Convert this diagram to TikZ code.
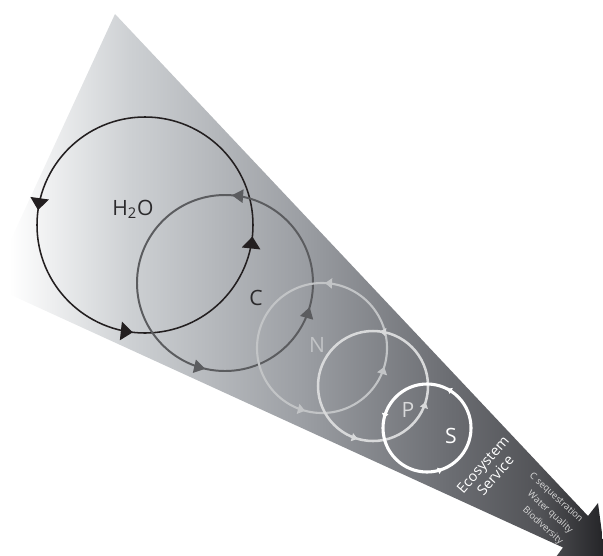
\documentclass[tikz,border=0pt]{standalone}
\usepackage{fontspec}
\setmainfont{Open Sans}
\usetikzlibrary{arrows.meta,decorations.markings}
\definecolor{wedgeB}{RGB}{205,208,211}
\definecolor{wedgeC}{RGB}{156,159,164}
\definecolor{wedgeD}{RGB}{107,109,114}
\definecolor{wedgeE}{RGB}{82,83,87}
\definecolor{wedgeF}{RGB}{36,36,39}
\definecolor{h2oline}{HTML}{231F20}
\definecolor{cline}{HTML}{5B5C5F}
\definecolor{nline}{HTML}{C2C4C6}
\definecolor{pline}{HTML}{D8D9DA}
\definecolor{labdark}{HTML}{2B2A2C}
\definecolor{smalltxt}{HTML}{DADADA}
\pgfdeclarehorizontalshading{wedgeshade}{100bp}{color(0bp)=(white); color(26.6bp)=(white); color(36.4bp)=(wedgeB); color(50.2bp)=(wedgeC); color(62.4bp)=(wedgeD); color(69.7bp)=(wedgeE); color(75bp)=(wedgeF); color(100bp)=(wedgeF)}

\begin{document}
\begin{tikzpicture}[x=0.25mm,y=-0.25mm,
  wedge/.style={shading=wedgeshade},
  marks/.style={postaction={decorate,decoration={markings,#1}}},
  lbl/.style={font=\fontsize{15}{18}\selectfont,inner sep=0pt,anchor=base},
  es/.style={font=\fontsize{10.2}{11.8}\selectfont,text=white,align=center,rotate=49,inner sep=0pt},
  svc/.style={font=\fontsize{6.6}{10.6}\selectfont,text=smalltxt,align=right,rotate=-42,inner sep=0pt}]
  \useasboundingbox (0,0) rectangle (603,555);
  \clip (0,0) rectangle (603,555);
  % the cone, ending in an arrow head
  \shade[wedge] (115,14) -- (588,516) -- (598,503) -- (605,556) -- (553,561) -- (563,547.5) -- (-10.2,285.3) -- cycle;
  % cycles, from big to small
  \foreach \cx/\cy/\r/\col/\lw/\tw/\tl/\pa/\pb/\pc in {
    145/225/108/h2oline/1.1pt/4.6mm/3mm/0.478/0.732/0.983,
    225/283/88/cline/1.4pt/3.3mm/2.8mm/0.2375/0.714/0.956,
    322/348/65/nline/1.5pt/2.5mm/1.8mm/0.243/0.708/0.953,
    373/386/55/pline/1.8pt/2mm/1.5mm/0.23/0.705/0.953,
    427/428/44/white/2.2pt/1.6mm/1.2mm/0.175/0.464/0.808}
    \draw[color=\col,line width=\lw,
      marks={mark=at position \pa with {\arrow{Triangle[width=\tw,length=\tl]}},
             mark=at position \pb with {\arrow{Triangle[width=\tw,length=\tl]}},
             mark=at position \pc with {\arrow{Triangle[width=\tw,length=\tl]}}}]
      (\cx,\cy) ++(0:\r) arc[start angle=0,end angle=-360,radius=\r];
  \node[lbl,text=labdark] (h2o) at (133,215) {H\textsubscript{2}O};
  \node[lbl,text=labdark] (c) at (256,305) {C};
  \node[lbl,text=nline] (n) at (317,352) {N};
  \node[lbl,text=pline] (p) at (408,417) {P};
  \node[lbl,text=white] (s) at (451,443) {S};
  \node[es] (eco) at (489,470) {Ecosystem\\Service};
  \node[svc] (svcs) at (546,509) {C sequestration\\Water quality\\Biodiversity};
\end{tikzpicture}
\end{document}
